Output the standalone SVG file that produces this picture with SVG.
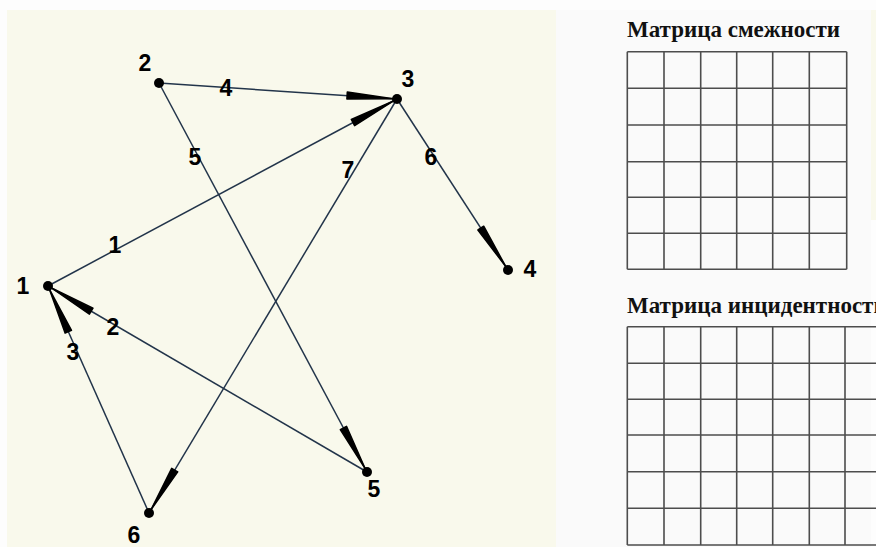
<svg xmlns="http://www.w3.org/2000/svg" width="876" height="547" viewBox="0 0 876 547">
<style>
.edge{stroke:#22344a;stroke-width:1.5;fill:none}
.arr{fill:#000;stroke:#000;stroke-width:1.5;stroke-linejoin:round}
.dot{fill:#000}
.lbl{font-family:"Liberation Sans",Arial,sans-serif;font-weight:bold;font-size:23px;fill:#000;text-anchor:middle;dominant-baseline:central}
.title{font-family:"Liberation Serif","Times New Roman",serif;font-weight:bold;font-size:23px;fill:#111}
.grid{stroke:#4d4d4d;stroke-width:1.6;fill:none}
</style>
<rect x="0" y="0" width="876" height="547" fill="#fdfdfd"/>
<rect x="7" y="10" width="549" height="537" fill="#f9f9ec"/>
<rect x="556" y="10" width="315" height="537" fill="#fafafa"/>
<rect x="871" y="10" width="5" height="210" fill="#f9f9ec"/>
<g id="connectors">
<line class="edge" x1="48" y1="286" x2="397" y2="99"/>
<line class="edge" x1="367" y1="472" x2="48" y2="286"/>
<line class="edge" x1="149" y1="513" x2="48" y2="286"/>
<line class="edge" x1="159" y1="83" x2="397" y2="99"/>
<line class="edge" x1="159" y1="83" x2="367" y2="472"/>
<line class="edge" x1="397" y1="99" x2="508" y2="270"/>
<line class="edge" x1="397" y1="99" x2="149" y2="513"/>
<polygon class="arr" points="393.5,100.9 354.6,125.7 351.3,119.5"/>
<polygon class="arr" points="51.5,288 93,308.2 89.4,314.2"/>
<polygon class="arr" points="49.6,289.7 71.5,330.3 65.1,333.1"/>
<polygon class="arr" points="393,98.7 346.9,99.1 347.3,92.1"/>
<polygon class="arr" points="365.1,468.5 340.3,429.6 346.5,426.3"/>
<polygon class="arr" points="505.8,266.6 477.9,230 483.7,226.2"/>
<polygon class="arr" points="151.1,509.6 171.7,468.3 177.7,471.9"/>
<text class="lbl" x="115" y="245">1</text>
<text class="lbl" x="113" y="327">2</text>
<text class="lbl" x="73" y="352">3</text>
<text class="lbl" x="226" y="88">4</text>
<text class="lbl" x="195" y="157">5</text>
<text class="lbl" x="431" y="157">6</text>
<text class="lbl" x="348" y="170">7</text>
</g>
<g id="node1"><circle class="dot" cx="48" cy="286" r="5"/><text class="lbl" x="23" y="286">1</text></g>
<g id="node2"><circle class="dot" cx="159" cy="83" r="5"/><text class="lbl" x="145" y="63">2</text></g>
<g id="node3"><circle class="dot" cx="397" cy="99" r="5"/><text class="lbl" x="408" y="79">3</text></g>
<g id="node4"><circle class="dot" cx="508" cy="270" r="5"/><text class="lbl" x="530" y="269">4</text></g>
<g id="node5"><circle class="dot" cx="367" cy="472" r="5"/><text class="lbl" x="374" y="489">5</text></g>
<g id="node6"><circle class="dot" cx="149" cy="513" r="5"/><text class="lbl" x="134" y="535">6</text></g>
<g id="adjacency">
<text class="title" x="627" y="37">Матрица смежности</text>
<path class="grid" d="M627.3,51.7V269.3M664,51.7V269.3M700.7,51.7V269.3M736.7,51.7V269.3M772.7,51.7V269.3M809.3,51.7V269.3M846.7,51.7V269.3M627.3,51.7H846.7M627.3,88.3H846.7M627.3,125H846.7M627.3,161.7H846.7M627.3,197.3H846.7M627.3,233.3H846.7M627.3,269.3H846.7"/>
</g>
<g id="incidence">
<text class="title" x="627" y="313">Матрица инцидентности</text>
<path class="grid" d="M627.3,326.7V545M664,326.7V545M700.7,326.7V545M736.7,326.7V545M772.7,326.7V545M809.3,326.7V545M845,326.7V545M627.3,326.7H876M627.3,363.3H876M627.3,399.3H876M627.3,435H876M627.3,471.7H876M627.3,508.3H876M627.3,545H876"/>
</g>
</svg>
